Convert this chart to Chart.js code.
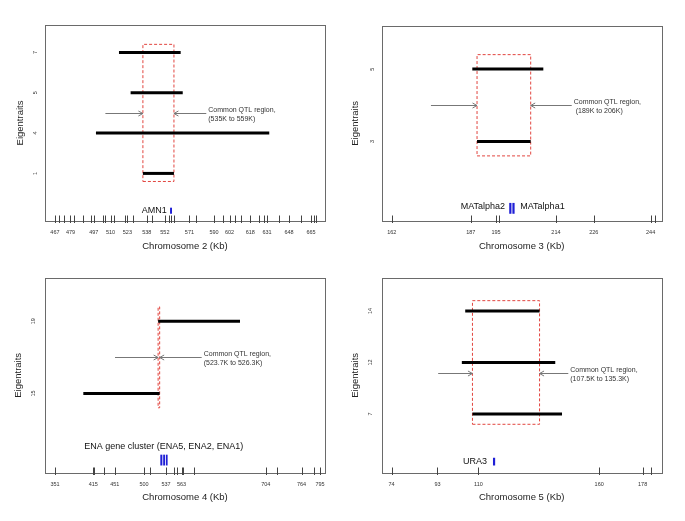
<!DOCTYPE html>
<html>
<head>
<meta charset="utf-8">
<script src="https://cdn.jsdelivr.net/npm/chart.js@4.4.1/dist/chart.umd.min.js"></script>
<style>
  body { margin: 0; background: #fff; width: 685px; height: 521px; position: relative; overflow: hidden; }
  canvas { position: absolute; }
</style>
</head>
<body>
<canvas id="c2" width="342" height="260" style="left:0;top:0"></canvas>
<canvas id="c3" width="343" height="260" style="left:342px;top:0"></canvas>
<canvas id="c4" width="342" height="261" style="left:0;top:260px"></canvas>
<canvas id="c5" width="343" height="261" style="left:342px;top:260px"></canvas>
<script>
// Chromosome 2
const chr2Traits = ['1', '4', '5', '7'];
const chr2Start = [535, 498.7, 525.5, 516.5];
const chr2End = [559, 632.7, 565.8, 564.2];
const chr2Qtl = [535, 559];
const chr2ArrowTails = [506, 584];
const chr2ArrowY = 2.5;
const chr2Note = ['Common QTL region,', '(535K to 559K)'];
const chr2GeneStart = [556];
const chr2GeneEnd = [557.5];
const chr2Ticks = [467, 470, 474, 479, 482, 489, 495, 497, 504, 506, 510, 513, 521, 523, 527, 538, 542,
  552, 555, 557, 559, 571, 576, 590, 597, 602, 606, 611, 618, 625, 629, 631, 640, 648, 657, 665, 667, 669];
const chr2TickLabels = [467, 479, 497, 510, 523, 538, 552, 571, 590, 602, 618, 631, 648, 665];

// Chromosome 3
const chr3Traits = ['3', '5'];
const chr3Start = [189, 187.5];
const chr3End = [206, 210];
const chr3Qtl = [189, 206];
const chr3ArrowTails = [174.4, 219];
const chr3ArrowY = 1.5;
const chr3Note = ['Common QTL region,', ' (189K to 206K)'];
const chr3GeneStart = [199.2, 200.2];
const chr3GeneEnd = [199.9, 200.9];
const chr3Ticks = [162, 187, 195, 196, 214, 226, 244, 245.4];
const chr3TickLabels = [162, 187, 195, 214, 226, 244];

// Chromosome 4
const chr4Traits = ['15', '19'];
const chr4Start = [398.4, 523.7];
const chr4End = [526.3, 660.9];
const chr4Qtl = [523.7, 526.3];
const chr4ArrowTails = [451.5, 596.7];
const chr4ArrowY = 1.5;
const chr4Note = ['Common QTL region,', '(523.7K to 526.3K)'];
const chr4GeneStart = [527.4, 532.2, 536.8];
const chr4GeneEnd = [530.8, 535.4, 539.6];
const chr4Ticks = [351, 415, 417, 433, 451, 500, 510, 537, 551, 556, 563, 565, 583, 704, 723, 764, 785, 795];
const chr4TickLabels = [351, 415, 451, 500, 537, 563, 704, 764, 795];

// Chromosome 5
const chr5Traits = ['7', '12', '14'];
const chr5Start = [107.5, 103.1, 104.5];
const chr5End = [144.6, 141.8, 135.3];
const chr5Qtl = [107.5, 135.3];
const chr5ArrowTails = [93.3, 147.2];
const chr5ArrowY = 1.79;
const chr5Note = ['Common QTL region,', '(107.5K to 135.3K)'];
const chr5GeneStart = [116];
const chr5GeneEnd = [116.9];
const chr5Ticks = [74, 93, 110, 160, 178, 181.4];
const chr5TickLabels = [74, 93, 110, 160, 178];

Chart.defaults.font.family = '"Liberation Sans", Arial, sans-serif';

function makePanel(p) {
  const n = p.traits.length;
  const [q0, q1] = p.qtl;
  const datasets = p.traits.map((t, i) => ({
    data: [{ x: p.start[i], y: i + 1 }, { x: p.end[i], y: i + 1 }],
    borderColor: '#000', borderWidth: 3, borderCapStyle: 'butt', pointRadius: 0, order: 0
  }));
  datasets.push({
    data: [{ x: q0, y: 0.8 }, { x: q1, y: 0.8 }, { x: q1, y: n + 0.2 }, { x: q0, y: n + 0.2 }, { x: q0, y: 0.8 }],
    borderColor: '#e2453f', borderWidth: 1, borderDash: [3, 2], pointRadius: 0, order: 1
  });

  const decor = {
    id: 'decor',
    afterDraw(chart) {
      const ctx = chart.ctx, a = chart.chartArea;
      const xs = chart.scales.x, ys = chart.scales.y;
      ctx.save();
      // box
      ctx.strokeStyle = '#6a6a6a';
      ctx.lineWidth = 1;
      ctx.strokeRect(Math.round(a.left) + 0.5, Math.round(a.top) + 0.5,
        Math.round(a.right - a.left), Math.round(a.bottom - a.top));
      // marker ticks on the axis
      ctx.strokeStyle = '#444';
      const b = Math.round(a.bottom) + 0.5;
      xs.ticks.forEach(t => {
        const px = Math.round(xs.getPixelForValue(t.value)) + 0.5;
        ctx.beginPath(); ctx.moveTo(px, b - 6); ctx.lineTo(px, b + 1.5); ctx.stroke();
      });
      // arrows
      const ay = Math.round(ys.getPixelForValue(p.arrowY)) + 0.5;
      ctx.strokeStyle = '#777';
      [[p.arrowTails[0], q0], [p.arrowTails[1], q1]].forEach(([from, to]) => {
        const x0 = xs.getPixelForValue(from), x1 = xs.getPixelForValue(to);
        const dir = Math.sign(x1 - x0);
        ctx.beginPath(); ctx.moveTo(x0, ay); ctx.lineTo(x1, ay); ctx.stroke();
        ctx.beginPath();
        ctx.moveTo(x1 - dir * 4.5, ay - 2.5); ctx.lineTo(x1, ay); ctx.lineTo(x1 - dir * 4.5, ay + 2.5);
        ctx.stroke();
      });
      // note
      ctx.fillStyle = '#333';
      ctx.font = '7px "Liberation Sans", Arial, sans-serif';
      ctx.textAlign = 'left';
      ctx.textBaseline = 'middle';
      const tx = xs.getPixelForValue(p.arrowTails[1]) + 2;
      ctx.fillText(p.note[0], tx, ay - 3.5);
      ctx.fillText(p.note[1], tx, ay + 5.5);
      // genes
      ctx.fillStyle = '#1f1fd6';
      const gy0 = ys.getPixelForValue(0.15), gy1 = ys.getPixelForValue(0);
      p.geneStart.forEach((g, i) => {
        const x0 = xs.getPixelForValue(g), x1 = xs.getPixelForValue(p.geneEnd[i]);
        ctx.fillRect(x0, gy0, Math.max(1.5, x1 - x0), gy1 - gy0);
      });
      ctx.fillStyle = '#111';
      ctx.font = '9px "Liberation Sans", Arial, sans-serif';
      p.geneLabels.forEach(l => {
        ctx.textAlign = l.align;
        ctx.fillText(l.text, xs.getPixelForValue(l.x), ys.getPixelForValue(l.y));
      });
      ctx.restore();
    }
  };

  new Chart(document.getElementById(p.id), {
    type: 'line',
    data: { datasets },
    options: {
      responsive: false,
      animation: false,
      layout: { padding: { top: p.padTop, right: p.padRight, left: 0, bottom: 0 } },
      plugins: { legend: { display: false }, tooltip: { enabled: false } },
      elements: { line: { tension: 0, fill: false } },
      scales: {
        x: {
          type: 'linear',
          min: p.range[0], max: p.range[1],
          afterBuildTicks: s => { s.ticks = p.ticks.map(v => ({ value: v })); },
          afterFit: s => { s.height = p.xAxisH; },
          grid: { display: false, drawTicks: false },
          border: { display: false },
          ticks: {
            autoSkip: false, maxRotation: 0, padding: 8, color: '#333',
            font: { size: 5.5 },
            callback: v => p.tickLabels.includes(v) ? String(v) : ''
          },
          title: {
            display: true, text: p.title, color: '#222', font: { size: 9.5 },
            padding: { top: 0, bottom: p.xTitlePad }
          }
        },
        y: {
          type: 'linear',
          min: -0.04 * (n + 0.5), max: 1.04 * (n + 0.5),
          afterBuildTicks: s => { s.ticks = p.traits.map((t, i) => ({ value: i + 1 })); },
          afterFit: s => { s.width = p.yAxisW; },
          grid: { display: false, drawTicks: false },
          border: { display: false },
          ticks: {
            autoSkip: false, minRotation: 90, maxRotation: 90, crossAlign: 'center',
            padding: 8, color: '#333', font: { size: 5.5 },
            callback: v => p.traits[v - 1]
          },
          title: {
            display: true, text: 'Eigentraits', color: '#222', font: { size: 9.5 },
            padding: { top: p.yTitlePad, bottom: 0 }
          }
        }
      }
    },
    plugins: [decor]
  });
}

makePanel({
  id: 'c2', traits: chr2Traits, start: chr2Start, end: chr2End, qtl: chr2Qtl,
  arrowTails: chr2ArrowTails, arrowY: chr2ArrowY, note: chr2Note,
  geneStart: chr2GeneStart, geneEnd: chr2GeneEnd,
  geneLabels: [{ text: 'AMN1', x: 553.4, y: 0.09, align: 'right' }],
  ticks: chr2Ticks, tickLabels: chr2TickLabels, range: [459.3, 675.8],
  title: 'Chromosome 2 (Kb)',
  padTop: 25, padRight: 17, xAxisH: 39, yAxisW: 45, xTitlePad: 8.3, yTitlePad: 14.3
});
makePanel({
  id: 'c3', traits: chr3Traits, start: chr3Start, end: chr3End, qtl: chr3Qtl,
  arrowTails: chr3ArrowTails, arrowY: chr3ArrowY, note: chr3Note,
  geneStart: chr3GeneStart, geneEnd: chr3GeneEnd,
  geneLabels: [
    { text: 'MATalpha2', x: 197.9, y: 0.1, align: 'right' },
    { text: 'MATalpha1', x: 202.7, y: 0.1, align: 'left' }
  ],
  ticks: chr3Ticks, tickLabels: chr3TickLabels, range: [158.8, 247.5],
  title: 'Chromosome 3 (Kb)',
  padTop: 25.7, padRight: 23.3, xAxisH: 39, yAxisW: 39.7, xTitlePad: 8.3, yTitlePad: 7.3
});
makePanel({
  id: 'c4', traits: chr4Traits, start: chr4Start, end: chr4End, qtl: chr4Qtl,
  arrowTails: chr4ArrowTails, arrowY: chr4ArrowY, note: chr4Note,
  geneStart: chr4GeneStart, geneEnd: chr4GeneEnd,
  geneLabels: [{ text: 'ENA gene cluster (ENA5, ENA2, ENA1)', x: 533, y: 0.26, align: 'center' }],
  ticks: chr4Ticks, tickLabels: chr4TickLabels, range: [334.2, 803.3],
  title: 'Chromosome 4 (Kb)',
  padTop: 18, padRight: 17, xAxisH: 48.3, yAxisW: 45, xTitlePad: 18, yTitlePad: 12.6
});
makePanel({
  id: 'c5', traits: chr5Traits, start: chr5Start, end: chr5End, qtl: chr5Qtl,
  arrowTails: chr5ArrowTails, arrowY: chr5ArrowY, note: chr5Note,
  geneStart: chr5GeneStart, geneEnd: chr5GeneEnd,
  geneLabels: [{ text: 'URA3', x: 113.5, y: 0.08, align: 'right' }],
  ticks: chr5Ticks, tickLabels: chr5TickLabels, range: [69.9, 185.9],
  title: 'Chromosome 5 (Kb)',
  padTop: 18, padRight: 23.3, xAxisH: 48.3, yAxisW: 39.7, xTitlePad: 18, yTitlePad: 7.3
});
</script>
</body>
</html>
